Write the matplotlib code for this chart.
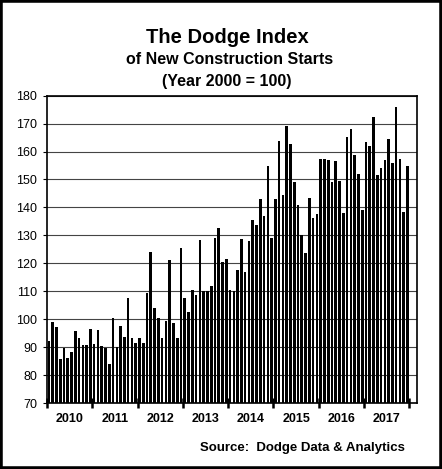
import numpy as np
import matplotlib
matplotlib.use("Agg")
import matplotlib.pyplot as plt
from matplotlib.patches import Rectangle

plt.rcParams.update({
    "font.family": ["Liberation Sans", "DejaVu Sans"],
})

# --- Monthly index values, Jan 2010 .. Dec 2017
years = [2010, 2011, 2012, 2013, 2014, 2015, 2016, 2017]
idx_2010 = [92.1, 99.1, 97.2, 85.6, 89.8, 86.0, 88.1, 95.6, 93.3, 90.8, 90.6, 96.5]
idx_2011 = [91.2, 96.0, 90.4, 89.8, 84.0, 100.4, 90.1, 97.5, 93.8, 107.5, 93.2, 91.5]
idx_2012 = [93.4, 91.6, 109.4, 124.0, 104.1, 100.5, 93.3, 99.4, 121.2, 98.6, 93.3, 125.6]
idx_2013 = [107.7, 102.4, 110.5, 108.8, 128.4, 110.0, 110.2, 112.0, 129.1, 132.7, 120.6, 121.5]
idx_2014 = [110.3, 110.0, 117.6, 128.8, 117.0, 128.1, 135.5, 133.6, 143.0, 136.9, 155.0, 129.2]
idx_2015 = [143.0, 163.6, 144.3, 169.0, 162.7, 149.0, 140.9, 130.2, 123.6, 143.4, 136.1, 137.7]
idx_2016 = [157.2, 157.2, 156.9, 149.2, 156.6, 149.4, 137.9, 165.2, 168.1, 158.6, 152.1, 139.0]
idx_2017 = [163.4, 161.9, 172.3, 151.7, 154.1, 156.9, 164.5, 155.8, 175.8, 157.5, 138.4, 155.0]

values = np.array(idx_2010 + idx_2011 + idx_2012 + idx_2013
                  + idx_2014 + idx_2015 + idx_2016 + idx_2017)
months = np.arange(len(values)) + 0.5

# --- Figure
fig = plt.figure(figsize=(4.42, 4.69), dpi=100)
ax = fig.add_axes([0.1063, 0.1407, 0.837, 0.6553])

ax.set_axisbelow(True)
ax.yaxis.grid(True, color="#444444", linewidth=0.8)
ax.bar(months, values - 70, bottom=70, width=0.7, color="black",
       edgecolor="none")

ax.set_ylim(70, 180)
ax.set_yticks(np.arange(70, 181, 10))
ax.set_xlim(0, len(values) + 2)

# year boundaries as major ticks, labels centred on each year
ax.set_xticks(np.arange(0, 12 * len(years) + 1, 12))
ax.set_xticklabels([])
ax.set_xticks(np.arange(6, 12 * len(years), 12), minor=True)
ax.set_xticklabels([str(y) for y in years], minor=True,
                   fontsize=9, fontweight="bold")
ax.tick_params(axis="x", which="major", direction="inout", length=7,
               width=1.8, color="black")
ax.tick_params(axis="x", which="minor", length=0, pad=7)
ax.tick_params(axis="y", direction="out", length=3, width=0.8,
               labelsize=9, pad=4)

for sp in ax.spines.values():
    sp.set_linewidth(1.2)
    sp.set_color("black")

# --- Titles
fig.text(0.515, 1 - 42.7 / 469, "The Dodge Index", ha="center",
         va="baseline", fontsize=14.5, fontweight="bold")
fig.text(0.52, 1 - 64.3 / 469, "of New Construction Starts", ha="center",
         va="baseline", fontsize=11.5, fontweight="bold")
fig.text(0.513, 1 - 85.7 / 469, "(Year 2000 = 100)", ha="center",
         va="baseline", fontsize=11.5, fontweight="bold")
fig.text(405 / 442, 1 - 450.7 / 469, "Source:  Dodge Data & Analytics",
         ha="right", va="baseline", fontsize=9.5, fontweight="bold")

# --- Outer border
fig.add_artist(Rectangle((0, 0), 1, 1, transform=fig.transFigure,
                         fill=False, edgecolor="black", linewidth=4))

fig.savefig("out.png", dpi=100)
